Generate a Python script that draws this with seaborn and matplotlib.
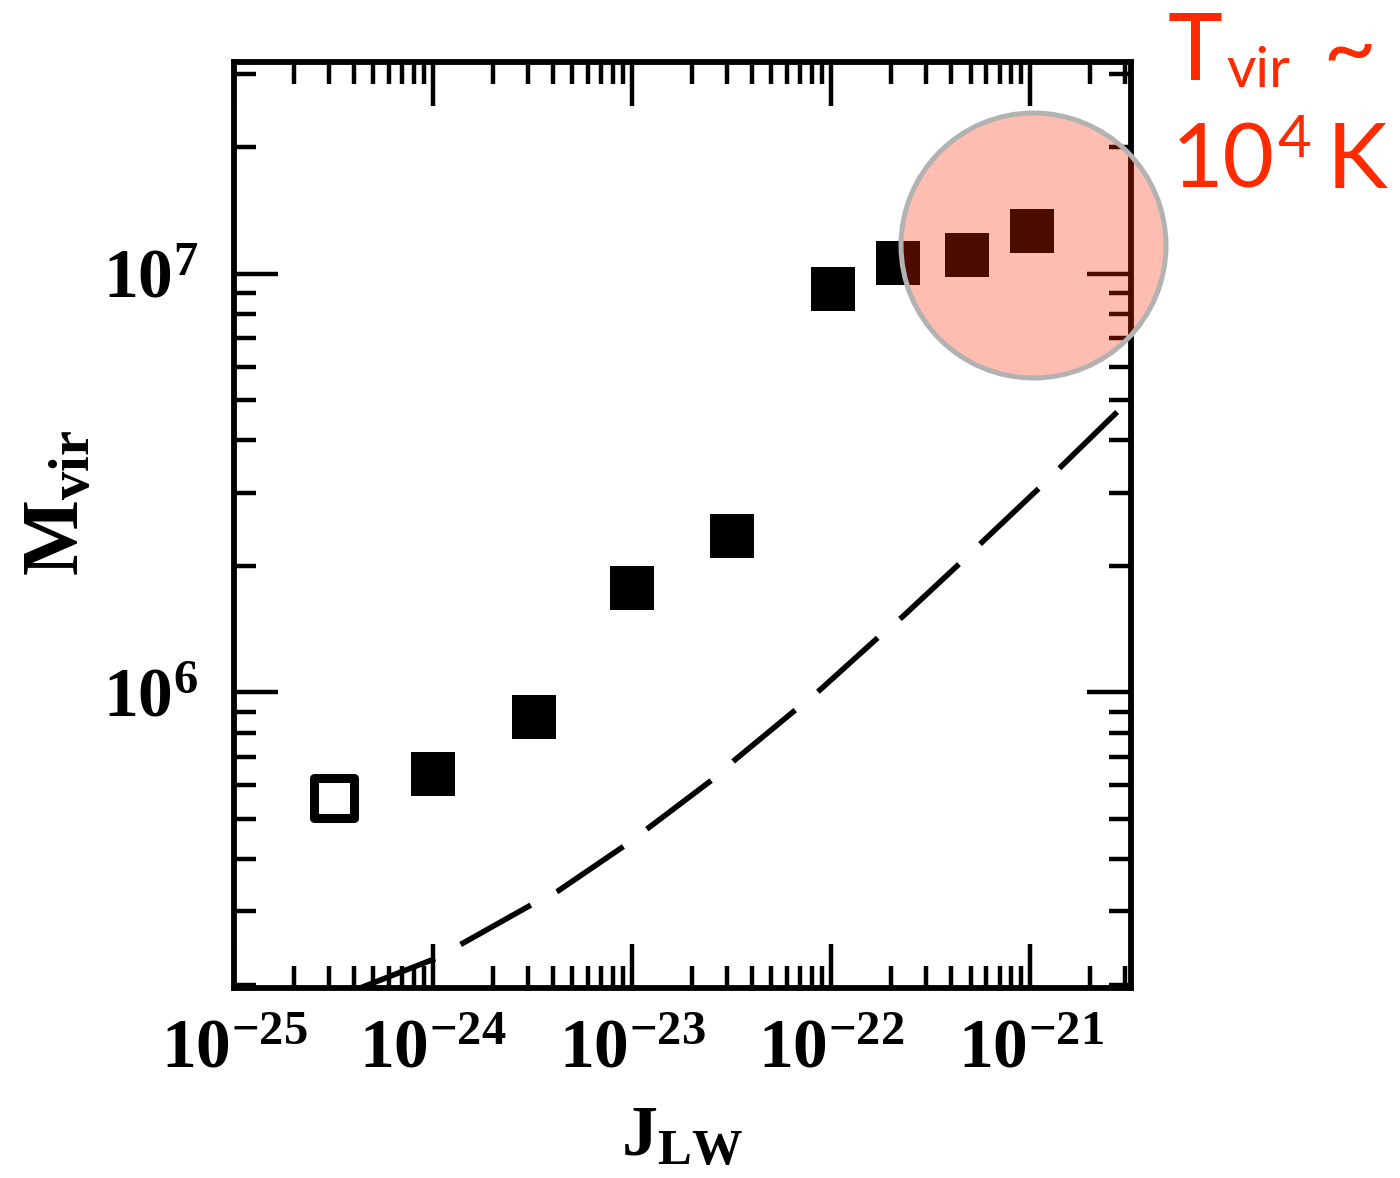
import matplotlib
matplotlib.use("Agg")
import matplotlib.pyplot as plt
import seaborn as sns
import numpy as np
import pandas as pd
from matplotlib.ticker import FixedLocator, FuncFormatter, NullFormatter

# ---------------- data ----------------
# open square (first halo)
J_open = [3.17e-25]
M_open = [5.61e5]

# filled squares
J_filled = [1.0e-24, 3.2e-24, 1.0e-23, 3.18e-23, 1.02e-22, 2.17e-22, 4.8e-22, 1.02e-21]
M_filled = [6.4e5, 8.72e5, 1.78e6, 2.36e6, 9.18e6, 1.058e7, 1.106e7, 1.262e7]

# dashed curve
J_curve = [4.30e-25, 1.06e-24, 1.37e-24, 3.18e-24, 4.25e-24, 9.44e-24, 1.20e-23,
           2.58e-23, 3.30e-23, 6.82e-23, 8.81e-23, 1.78e-22, 2.28e-22, 4.55e-22,
           5.74e-22, 1.15e-21, 1.45e-21, 2.86e-21]
M_curve = [1.97e5, 2.33e5, 2.50e5, 3.13e5, 3.36e5, 4.35e5, 4.74e5, 6.24e5,
           6.92e5, 9.20e5, 1.016e6, 1.374e6, 1.517e6, 2.06e6, 2.29e6, 3.13e6,
           3.49e6, 4.78e6]

# highlight circle centre
J_circle = [1.035e-21]
M_circle = [1.17e7]

# axis ticks
x_major = [1e-25, 1e-24, 1e-23, 1e-22, 1e-21]
y_major = [1e6, 1e7]
x_label = r"$\mathbf{J_{LW}}$"
y_label = r"$\mathbf{M_{vir}}$"

# ---------------- style ----------------
sns.set_style("ticks")
plt.rcParams.update({
    "mathtext.fontset": "custom",
    "mathtext.rm": "Liberation Serif:bold",
    "mathtext.bf": "Liberation Serif:bold",
    "mathtext.it": "Liberation Serif:bold",
    "mathtext.sf": "Liberation Serif:bold",
    "lines.scale_dashes": False,
    "text.color": "black",
    "axes.labelcolor": "black",
    "xtick.color": "black",
    "ytick.color": "black",
    "xtick.labelcolor": "black",
    "ytick.labelcolor": "black",
})
plt.rcParams["font.family"] = ["Liberation Serif", "DejaVu Sans"]

fig = plt.figure(figsize=(14, 11.78), dpi=100)
ax = fig.add_axes([0.1671, 0.16129, 0.6408, 0.78608])

curve_df = pd.DataFrame({"J": J_curve, "M": M_curve})
sns.lineplot(data=curve_df, x="J", y="M", ax=ax, color="black", lw=4.0,
             sort=False, estimator=None, zorder=3)
ax.lines[-1].set_dashes([58, 21])

filled_df = pd.DataFrame({"J": J_filled, "M": M_filled})
sns.scatterplot(data=filled_df, x="J", y="M", ax=ax, marker="s", s=1004,
                color="black", linewidth=0, zorder=4)

open_df = pd.DataFrame({"J": J_open, "M": M_open})
sns.scatterplot(data=open_df, x="J", y="M", ax=ax, marker="s", s=790,
                facecolor="white", edgecolor="black", linewidth=6.5, zorder=4)

ax.scatter(J_circle, M_circle, s=36400, marker="o",
           facecolor=(1.0, 0.157, 0.0, 0.31), edgecolor="#b2b2b2",
           linewidth=3.6, zorder=6, clip_on=False)

ax.set_xscale("log")
ax.set_yscale("log")
ax.set_xlim(1e-25, 3.2e-21)
ax.set_ylim(1.97e5, 3.2e7)

x_minor = [m * d for d in x_major for m in range(2, 10) if m * d < 3.2e-21]
y_minor = [m * d for d in [1e5, 1e6, 1e7] for m in range(2, 10) if 1.97e5 <= m * d <= 3.2e7]

fmt = FuncFormatter(lambda v, p: r"$\mathbf{10^{%d}}$" % int(round(np.log10(v))))
ax.xaxis.set_major_locator(FixedLocator(x_major))
ax.yaxis.set_major_locator(FixedLocator(y_major))
ax.xaxis.set_minor_locator(FixedLocator(x_minor))
ax.yaxis.set_minor_locator(FixedLocator(y_minor))
for axis in (ax.xaxis, ax.yaxis):
    axis.set_major_formatter(fmt)
    axis.set_minor_formatter(NullFormatter())

ax.tick_params(which="both", direction="in", top=True, right=True,
               width=3.2, color="black")
ax.tick_params(which="major", length=31.7, labelsize=50)
ax.tick_params(axis="x", which="major", pad=22)
ax.tick_params(axis="y", which="major", pad=26)
ax.tick_params(which="minor", length=15.8)
for sp in ax.spines.values():
    sp.set_linewidth(4.2)
    sp.set_color("black")

ax.set_xlabel(x_label, fontsize=52)
ax.set_ylabel(y_label, fontsize=58)
ax.xaxis.set_label_coords(0.5, -0.126)
ax.yaxis.set_label_coords(-0.195, 0.524)
ax.yaxis.label.set_va("center")

# red annotation
red = "#ff2a00"
W, H = 1400, 1178
def ftext(x, y, s, size):
    fig.text(x / W, 1 - y / H, s, color=red, fontsize=size,
             family=["Lato", "DejaVu Sans"], ha="left", va="baseline")
ftext(1168, 80, "T", 67)
ftext(1226, 87, "vir", 41)
ftext(1322, 80, "~", 67)
ftext(1172, 188, "10", 64)
ftext(1277, 157, "4", 42)
ftext(1327, 188, "K", 66)

fig.savefig("out.png", dpi=100)
